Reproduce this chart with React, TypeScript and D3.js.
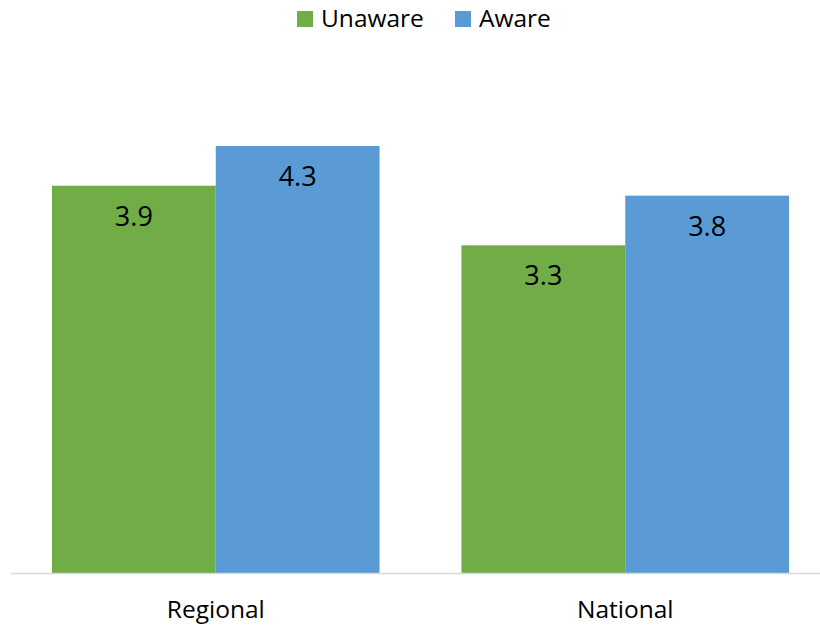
import React from "react";
import * as d3 from "d3";

const categories = ["Regional", "National"];
const seriesNames = ["Unaware", "Aware"];
const unaware = [3.9, 3.3];
const aware = [4.3, 3.8];
const colors = ["#70ad47", "#5b9bd5"];

const W = 820;
const H = 627;
const baseY = 573;

export default function App() {
  const values = [unaware, aware];
  const x0 = d3.scaleBand<string>().domain(categories).range([11, 830]).padding(0);
  const x1 = d3
    .scaleBand<string>()
    .domain(seriesNames)
    .range([0, x0.bandwidth()])
    .paddingInner(0)
    .paddingOuter(0.25);
  const y = d3.scaleLinear().domain([0, 5]).range([baseY, baseY - 496.5]);

  const font = "'Open Sans', 'Liberation Sans', sans-serif";

  return (
    <svg
      width={W}
      height={H}
      style={{ position: "absolute", left: 0, top: 0, background: "#fff" }}
      fontFamily={font}
    >
      {categories.map((c, ci) => (
        <g key={c} transform={`translate(${x0(c)},0)`}>
          {seriesNames.map((s, si) => {
            const v = values[si][ci];
            const bx = x1(s)!;
            return (
              <g key={s}>
                <rect
                  x={bx}
                  y={y(v)}
                  width={x1.bandwidth()}
                  height={baseY - y(v)}
                  fill={colors[si]}
                />
                <text
                  x={bx + x1.bandwidth() / 2}
                  y={y(v) + 40}
                  textAnchor="middle"
                  fontSize={27}
                  fill="#000"
                >
                  {v.toFixed(1)}
                </text>
              </g>
            );
          })}
          <text
            x={x0.bandwidth() / 2}
            y={618}
            textAnchor="middle"
            fontSize={24.5}
            fill="#000"
          >
            {c}
          </text>
        </g>
      ))}
      <line x1={11} x2={830} y1={baseY + 0.5} y2={baseY + 0.5} stroke="#d9d9d9" strokeWidth={1.5} />
      {/* legend */}
      {seriesNames.map((s, si) => {
        const lx = [297, 455][si];
        return (
          <g key={s}>
            <rect x={lx} y={11} width={16} height={16} fill={colors[si]} />
            <text x={lx + 24} y={27} fontSize={24.5} fill="#000">
              {s}
            </text>
          </g>
        );
      })}
    </svg>
  );
}
